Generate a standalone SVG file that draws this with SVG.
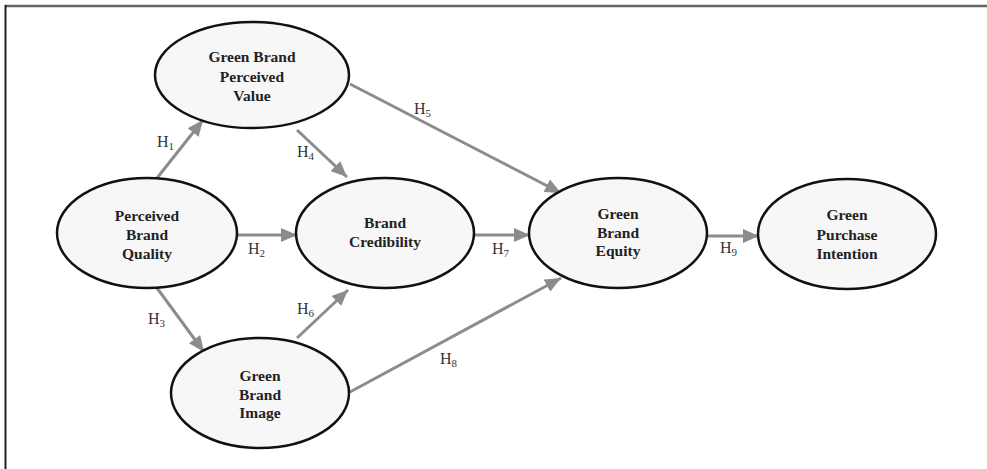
<svg xmlns="http://www.w3.org/2000/svg" width="987" height="469" viewBox="0 0 987 469">
<defs>
<marker id="ah" markerUnits="userSpaceOnUse" markerWidth="16" markerHeight="14" refX="16" refY="7" orient="auto">
<path d="M0,0 L16,7 L0,14 z" fill="#8c8c8c"/>
</marker>
<style>
.node ellipse{fill:#f7f7f7;stroke:#111;stroke-width:2.5}
.node text{font-family:"Liberation Serif","Times New Roman",serif;font-weight:bold;font-size:15.5px;fill:#222;text-anchor:middle}
.conn line{stroke:#8c8c8c;stroke-width:3;marker-end:url(#ah)}
.lbl{font-family:"Liberation Serif","Times New Roman",serif;font-size:16px;fill:#333}
.lbl tspan.s{font-size:11px}
</style>
</defs>
<rect width="987" height="469" fill="#fff"/>
<line x1="5" y1="6" x2="987" y2="6" stroke="#666" stroke-width="2.5"/>
<line x1="5.5" y1="5" x2="5.5" y2="469" stroke="#222" stroke-width="2"/>
<g id="connectors" class="conn">
<line x1="157" y1="178" x2="203" y2="120"/>
<line x1="297" y1="130" x2="347" y2="177"/>
<line x1="350" y1="84" x2="561" y2="193"/>
<line x1="237" y1="235" x2="297" y2="235"/>
<line x1="474" y1="235" x2="530" y2="235"/>
<line x1="707" y1="236" x2="759" y2="236"/>
<line x1="157" y1="288" x2="204" y2="352"/>
<line x1="297" y1="338" x2="348" y2="290"/>
<line x1="350" y1="392" x2="561" y2="278"/>
</g>
<g id="labels">
<text class="lbl" x="157" y="147">H<tspan class="s" dy="3">1</tspan></text>
<text class="lbl" x="297" y="157">H<tspan class="s" dy="3">4</tspan></text>
<text class="lbl" x="414" y="114">H<tspan class="s" dy="3">5</tspan></text>
<text class="lbl" x="248" y="254">H<tspan class="s" dy="3">2</tspan></text>
<text class="lbl" x="492" y="254">H<tspan class="s" dy="3">7</tspan></text>
<text class="lbl" x="720" y="253">H<tspan class="s" dy="3">9</tspan></text>
<text class="lbl" x="148" y="324">H<tspan class="s" dy="3">3</tspan></text>
<text class="lbl" x="297" y="314">H<tspan class="s" dy="3">6</tspan></text>
<text class="lbl" x="440" y="364">H<tspan class="s" dy="3">8</tspan></text>
</g>
<g id="gbpv" class="node">
<ellipse cx="252" cy="75" rx="97" ry="53"/>
<text x="252" y="62">Green Brand</text>
<text x="252" y="82">Perceived</text>
<text x="252" y="101">Value</text>
</g>
<g id="pbq" class="node">
<ellipse cx="147" cy="233" rx="90" ry="55"/>
<text x="147" y="221">Perceived</text>
<text x="147" y="240">Brand</text>
<text x="147" y="259">Quality</text>
</g>
<g id="gbi" class="node">
<ellipse cx="260" cy="393" rx="89" ry="55"/>
<text x="260" y="381">Green</text>
<text x="260" y="400">Brand</text>
<text x="260" y="418">Image</text>
</g>
<g id="bc" class="node">
<ellipse cx="385" cy="233" rx="89" ry="55"/>
<text x="385" y="228">Brand</text>
<text x="385" y="247">Credibility</text>
</g>
<g id="gbe" class="node">
<ellipse cx="618" cy="233" rx="89" ry="55"/>
<text x="618" y="219">Green</text>
<text x="618" y="238">Brand</text>
<text x="618" y="256">Equity</text>
</g>
<g id="gpi" class="node">
<ellipse cx="847" cy="234" rx="89" ry="55"/>
<text x="847" y="220">Green</text>
<text x="847" y="240">Purchase</text>
<text x="847" y="259">Intention</text>
</g>
</svg>
